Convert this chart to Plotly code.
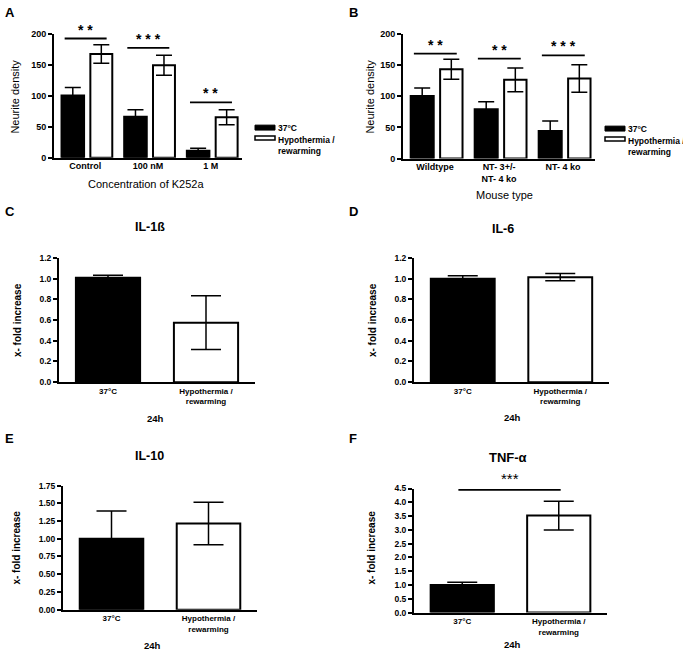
import plotly.graph_objects as go

W, H = 683, 656
FONT = "Liberation Sans, Arial, sans-serif"

# ---------------- data ----------------
A_cats = ["Control", "100 nM", "1 M"]
A_37 = [100, 66, 11]
A_37_err = [13, 11, 4]
A_hypo = [167, 149, 65]
A_hypo_err = [15, 16, 12]
A_sig_y = [192, 177, 89]
A_sig_txt = ["* *", "* * *", "* *"]

B_cats = ["Wildtype", "NT- 3+/-<br>NT- 4 ko", "NT- 4 ko"]
B_37 = [100, 79, 44]
B_37_err = [13, 12, 16]
B_hypo = [143, 126, 128]
B_hypo_err = [16, 19, 22]
B_sig_y = [168, 160, 165]
B_sig_txt = ["* *", "* *", "* * *"]

cyto_cats = ["37°C", "Hypothermia /<br>rewarming"]
C_vals = [1.01, 0.575]
C_err = [0.025, 0.26]
D_vals = [1.00, 1.015]
D_err = [0.028, 0.035]
E_vals = [1.00, 1.215]
E_err = [0.39, 0.30]
F_vals = [1.00, 3.52]
F_err = [0.10, 0.52]
F_sig_y = 4.45
F_sig_txt = "***"

legend_labels = ["37°C", "Hypothermia /<br>rewarming"]


def xf(px):
    return px / W


def yf(py):
    return 1 - py / H


fig = go.Figure()

# panel geometry in pixels: (x0, x1, ytop, ybottom)
panels = {
    1: (54, 242, 29, 155),
    2: (403, 595, 29, 156),
    3: (59, 255, 257, 383),
    4: (414, 609, 257, 383),
    5: (63, 257, 488, 614),
    6: (414, 607, 491, 617),
}

ERR_STYLE = dict(type="data", color="black", thickness=1.5, visible=True)


def grouped(idx, cats, v37, e37, vh, eh):
    xs = list(range(len(cats)))
    xa = "x" if idx == 1 else f"x{idx}"
    ya = "y" if idx == 1 else f"y{idx}"
    fig.add_trace(go.Bar(
        x=xs, y=v37, xaxis=xa, yaxis=ya, offset=-0.38, width=0.36,
        marker=dict(color="black", line=dict(color="black", width=2)),
        error_y=dict(array=e37, width=8, **ERR_STYLE), showlegend=False))
    fig.add_trace(go.Bar(
        x=xs, y=vh, xaxis=xa, yaxis=ya, offset=0.08, width=0.35,
        marker=dict(color="white", line=dict(color="black", width=2)),
        error_y=dict(array=eh, width=8, **ERR_STYLE), showlegend=False))


def pair(idx, vals, errs, capw=15):
    xa = f"x{idx}"
    ya = f"y{idx}"
    fig.add_trace(go.Bar(
        x=list(range(len(vals))), y=vals, xaxis=xa, yaxis=ya, width=0.655,
        marker=dict(color=["black", "white"], line=dict(color="black", width=2)),
        error_y=dict(array=errs, width=capw, **ERR_STYLE), showlegend=False))


grouped(1, A_cats, A_37, A_37_err, A_hypo, A_hypo_err)
grouped(2, B_cats, B_37, B_37_err, B_hypo, B_hypo_err)
pair(3, C_vals, C_err)
pair(4, D_vals, D_err)
pair(5, E_vals, E_err)
pair(6, F_vals, F_err)

layout = dict(
    width=W, height=H, margin=dict(l=0, r=0, t=0, b=0),
    paper_bgcolor="white", plot_bgcolor="white",
    barmode="overlay", showlegend=False,
    font=dict(family=FONT, color="black"),
)

yranges = {1: (0, 200, 50, "d"), 2: (0, 200, 50, "d"),
           3: (0, 1.2, 0.2, ".1f"), 4: (0, 1.2, 0.2, ".1f"),
           5: (0, 1.75, 0.25, ".2f"), 6: (0, 4.5, 0.5, ".1f")}
tick_labels = {1: A_cats, 2: B_cats, 3: cyto_cats, 4: cyto_cats, 5: cyto_cats, 6: cyto_cats}

for i, (x0, x1, yt, yb) in panels.items():
    n = len(tick_labels[i])
    fs = 9 if i <= 2 else 8.5
    xk = "xaxis" if i == 1 else f"xaxis{i}"
    yk = "yaxis" if i == 1 else f"yaxis{i}"
    ya = "y" if i == 1 else f"y{i}"
    xa = "x" if i == 1 else f"x{i}"
    layout[xk] = dict(
        domain=[xf(x0), xf(x1)], anchor=ya, range=[-0.5, n - 0.5],
        tickmode="array", tickvals=list(range(n)), ticktext=tick_labels[i],
        showline=True, linecolor="black", linewidth=2, ticks="",
        showgrid=False, zeroline=False, fixedrange=True,
        tickfont=dict(size=fs if i <= 2 else 8, family=FONT, color="black", weight="bold"),
        ticklabelstandoff=-1 if i <= 2 else 0,
    )
    r0, r1, dt, fmt = yranges[i]
    layout[yk] = dict(
        domain=[yf(yb), yf(yt)], anchor=xa, range=[r0, r1],
        dtick=dt, tick0=0, tickformat=fmt,
        showline=True, linecolor="black", linewidth=2,
        ticks="outside", ticklen=4, tickwidth=1.5, tickcolor="black",
        showgrid=False, zeroline=False, fixedrange=True,
        tickfont=dict(size=fs, family=FONT, color="black", weight="bold"),
    )

fig.update_layout(**layout)

shapes = []
annotations = []

# significance brackets
for i, (ys, txts) in ((1, (A_sig_y, A_sig_txt)), (2, (B_sig_y, B_sig_txt))):
    xa = "x" if i == 1 else f"x{i}"
    ya = "y" if i == 1 else f"y{i}"
    for k, (yv, t) in enumerate(zip(ys, txts)):
        shapes.append(dict(type="line", xref=xa, yref=ya, x0=k - 0.33, x1=k + 0.34,
                           y0=yv, y1=yv, line=dict(color="black", width=1.8)))
        annotations.append(dict(xref=xa, yref=ya, x=k, y=yv, text=t, showarrow=False,
                                yshift=9, font=dict(size=14, family=FONT, weight="bold")))

shapes.append(dict(type="line", xref="x6", yref="y6", x0=-0.04, x1=1.02,
                   y0=F_sig_y, y1=F_sig_y, line=dict(color="black", width=1.8)))
annotations.append(dict(xref="x6", yref="y6", x=0.49, y=F_sig_y, text=F_sig_txt,
                        showarrow=False, yshift=11,
                        font=dict(size=15, family=FONT, weight="normal")))


def txt(px, py, s, size, bold=True, angle=0, xanchor="center"):
    annotations.append(dict(xref="paper", yref="paper", x=xf(px), y=yf(py), text=s,
                            showarrow=False, textangle=angle, xanchor=xanchor,
                            yanchor="middle",
                            font=dict(size=size, family=FONT, color="black",
                                      weight="bold" if bold else "normal")))


# panel letters
for lab, px, py in (("A", 3, 8), ("B", 347, 8), ("C", 3, 210), ("D", 347, 210),
                    ("E", 3, 440), ("F", 347, 440)):
    txt(px, py, lab, 13, xanchor="left")

# axis titles panels A/B
txt(15, 93, "Neurite density", 11, bold=False, angle=-90)
txt(146, 182, "Concentration of K252a", 11, bold=False)
txt(370, 93, "Neurite density", 11, bold=False, angle=-90)
txt(504, 193, "Mouse type", 11, bold=False)

# cytokine panels
txt(17, 320, "x- fold increase", 10, angle=-90)
txt(372, 320, "x- fold increase", 10, angle=-90)
txt(17, 551, "x- fold increase", 10, angle=-90)
txt(372, 551, "x- fold increase", 10, angle=-90)
txt(150, 225, "IL-1ß", 12.5)
txt(503, 227, "IL-6", 12.5)
txt(149, 458, "IL-10", 12.5)
txt(508, 460, "TNF-α", 13)
txt(155, 420, "24h", 9.5)
txt(512, 419, "24h", 9.5)
txt(152, 650, "24h", 9.5)
txt(512, 649, "24h", 9.5)

# legends (drawn as swatches + text)
for lx, ly in ((255, 122), (605, 123)):
    shapes.append(dict(type="rect", xref="paper", yref="paper",
                       x0=xf(lx), x1=xf(lx + 20), y0=yf(ly + 5), y1=yf(ly),
                       fillcolor="black", line=dict(color="black", width=1)))
    shapes.append(dict(type="rect", xref="paper", yref="paper",
                       x0=xf(lx), x1=xf(lx + 20), y0=yf(ly + 15), y1=yf(ly + 11),
                       fillcolor="white", line=dict(color="black", width=1.5)))
    txt(lx + 21, ly + 2.5, legend_labels[0], 8.5, xanchor="left")
    annotations.append(dict(xref="paper", yref="paper", x=xf(lx + 21), y=yf(ly + 8),
                            text=legend_labels[1], showarrow=False, xanchor="left",
                            yanchor="top", align="left",
                            font=dict(size=8.5, family=FONT, color="black", weight="bold")))

fig.update_layout(shapes=shapes, annotations=annotations)
fig.write_html(
    "out.html",
    config={"displayModeBar": False},
    post_script="document.body.style.margin='0';document.body.style.overflow='hidden';",
)
